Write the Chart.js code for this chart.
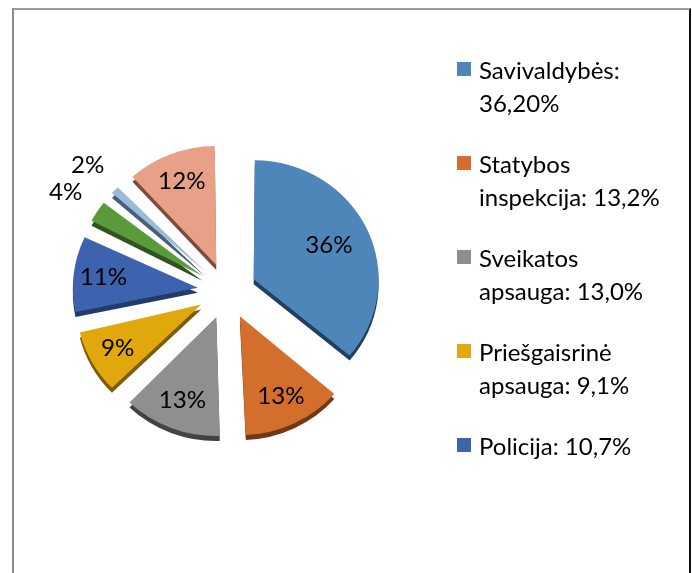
<!DOCTYPE html>
<html lang="lt">
<head>
<meta charset="utf-8">
<title>Pie chart</title>
<script src="https://cdn.jsdelivr.net/npm/chart.js@4.4.1/dist/chart.umd.min.js"></script>
<style>
  html, body { margin: 0; padding: 0; background: #fff; }
  body { width: 692px; height: 573px; position: relative; overflow: hidden; font-family: Lato, "Open Sans", sans-serif; }
  .frame {
    position: absolute; left: 12px; top: 8px; width: 675px; height: 600px;
    border-left: 2px solid #8c8c8c; border-top: 2px solid #9a9a9a; border-right: 2px solid #111;
  }
  #pie { position: absolute; left: 0; top: 0; }
  .legend { position: absolute; left: 457px; top: 53px; margin: 0; padding: 0; list-style: none; }
  .legend li { position: relative; padding-left: 22px; height: 94px; font-size: 24px; line-height: 33px; color: #000; white-space: pre-line; }
  .legend .key { position: absolute; left: 0; top: 9px; width: 14px; height: 14px; }
</style>
</head>
<body>
<div class="frame"></div>
<canvas id="pie" width="692" height="573"></canvas>
<ul class="legend" id="legend"></ul>
<script>
const categories = ['Savivaldybės', 'Statybos inspekcija', 'Sveikatos apsauga', 'Priešgaisrinė apsauga', 'Policija', '', '', ''];
const shares = [36.2, 13.2, 13.0, 9.1, 10.7, 3.8, 2.1, 11.9];
const legendTexts = ['Savivaldybės:\n36,20%', 'Statybos\ninspekcija: 13,2%', 'Sveikatos\napsauga: 13,0%', 'Priešgaisrinė\napsauga: 9,1%', 'Policija: 10,7%'];
const sliceColors = ['#4f86ba', '#d36e2c', '#8f8f8f', '#e0a80c', '#3d62ae', '#5b9a3b', '#9abad9', '#e8a088'];
const sideColors = ['#223f5e', '#6e3914', '#434343', '#7d5c06', '#223a6c', '#2f5420', '#4a5f7a', '#7c4b3b'];

const RADIUS = 119;
const EXPLODE = 28; // px each slice is pulled out
const DEPTH = 5;
const STRETCH_X = 1.05; // the original pie is a little wider than tall

// widen the pie around its centre
const stretchStart = {
  id: 'stretchStart',
  beforeDatasetsDraw(chart) {
    const { ctx, chartArea } = chart;
    const cx = (chartArea.left + chartArea.right) / 2;
    ctx.save();
    ctx.translate(cx, 0);
    ctx.scale(STRETCH_X, 1);
    ctx.translate(-cx, 0);
  }
};
const stretchEnd = {
  id: 'stretchEnd',
  afterDatasetsDraw(chart) {
    chart.ctx.restore();
  }
};

// Chart.js grows narrow exploded slices; keep every slice at the same radius
const keepRadius = {
  id: 'keepRadius',
  beforeDatasetsDraw(chart) {
    const meta = chart.getDatasetMeta(0);
    const base = meta.controller.outerRadius;
    meta.data.forEach((arc) => {
      const off = (arc.options.offset || 0) / 4;
      const fix = 1 - Math.sin(Math.min(Math.PI, arc.circumference));
      arc.outerRadius = base - off * fix;
    });
  }
};

// darker copy of each slice, shifted down, for the 3D edge
const sliceDepth = {
  id: 'sliceDepth',
  beforeDatasetsDraw(chart) {
    const { ctx } = chart;
    chart.getDatasetMeta(0).data.forEach((arc, i) => {
      const orig = arc.options;
      arc.options = Object.assign({}, orig, { backgroundColor: sideColors[i], borderColor: sideColors[i] });
      ctx.save();
      ctx.translate(0, DEPTH);
      arc.draw(ctx);
      ctx.restore();
      arc.options = orig;
    });
  }
};

const sliceLabels = {
  id: 'sliceLabels',
  afterDatasetsDraw(chart) {
    const { ctx } = chart;
    ctx.save();
    ctx.font = '23px Lato, "Open Sans", sans-serif';
    ctx.fillStyle = '#000';
    ctx.textAlign = 'center';
    ctx.textBaseline = 'middle';
    chart.getDatasetMeta(0).data.forEach((arc, i) => {
      const { x, y, startAngle, endAngle } = arc.getProps(['x', 'y', 'startAngle', 'endAngle']);
      const mid = (startAngle + endAngle) / 2;
      const sweep = endAngle - startAngle;
      const off = (arc.options.offset || 0) / 4;
      // wide slices keep their label nearer the tip, tiny ones go outside
      const dist = shares[i] < 5 ? RADIUS * 1.3 : RADIUS * (0.8 - 0.06 * sweep);
      const lx = x + Math.cos(mid) * (off + dist);
      const ly = y + Math.sin(mid) * (off + dist);
      ctx.fillText(Math.round(shares[i]) + '%', lx, ly);
    });
    ctx.restore();
  }
};

new Chart(document.getElementById('pie'), {
  type: 'pie',
  data: {
    labels: categories,
    datasets: [{
      data: shares,
      backgroundColor: sliceColors,
      borderWidth: 0,
      offset: EXPLODE * 4
    }]
  },
  options: {
    responsive: false,
    animation: false,
    radius: RADIUS,
    layout: { padding: { left: 0, right: 238, top: 9, bottom: 0 } },
    plugins: {
      legend: { display: false },
      tooltip: { enabled: false }
    }
  },
  plugins: [stretchStart, keepRadius, sliceDepth, sliceLabels, stretchEnd]
});

const legendEl = document.getElementById('legend');
legendTexts.forEach((text, i) => {
  const li = document.createElement('li');
  const key = document.createElement('span');
  key.className = 'key';
  key.style.background = sliceColors[i];
  li.appendChild(key);
  li.appendChild(document.createTextNode(text));
  legendEl.appendChild(li);
});
</script>
</body>
</html>
